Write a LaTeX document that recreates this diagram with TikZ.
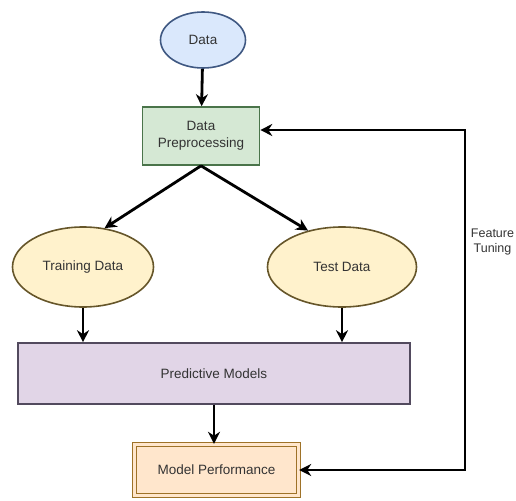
\documentclass[tikz,border=0pt]{standalone}
\usepackage{fontspec}
\setmainfont{Liberation Sans}
\usetikzlibrary{shapes.geometric, arrows.meta, positioning}

\definecolor{bluefill}{HTML}{DAE8FC}
\definecolor{blueline}{HTML}{3F5882}
\definecolor{greenfill}{HTML}{D5E8D4}
\definecolor{greenline}{HTML}{4A744A}
\definecolor{yellowfill}{HTML}{FFF2CC}
\definecolor{yellowline}{HTML}{66562A}
\definecolor{purplefill}{HTML}{E1D5E7}
\definecolor{purpleline}{HTML}{524A5E}
\definecolor{orangefill}{HTML}{FFE6CC}
\definecolor{orangeline}{HTML}{9E7228}
\definecolor{labeltext}{HTML}{333333}

\begin{document}
\begin{tikzpicture}[
    x=1pt, y=1pt,
    every node/.style={font=\fontsize{13.5}{17}\selectfont, text=labeltext},
    source/.style={ellipse, draw=blueline, fill=bluefill, line width=1.6pt, minimum width=85pt, minimum height=56pt},
    stage/.style={rectangle, draw=greenline, fill=greenfill, line width=1.6pt, minimum width=117pt, minimum height=58pt, align=center},
    split/.style={ellipse, draw=yellowline, fill=yellowfill, line width=1.6pt, minimum height=80pt},
    model/.style={rectangle, draw=purpleline, fill=purplefill, line width=1.6pt, minimum width=392pt, minimum height=61pt},
    result/.style={rectangle, draw=orangeline, double=orangefill, double distance=2.6pt, line width=1.4pt, fill=orangefill, minimum width=164pt, minimum height=51pt},
    arrow/.style={-{Stealth[length=12pt, width=12pt]}, line width=2.8pt}
  ]
    \useasboundingbox (0,0) rectangle (516,-500);

    \node[source] (data) at (203,-40) {Data};
    \node[stage] (prep) at (201,-136) {Data\\Preprocessing};
    \node[split, minimum width=141pt] (train) at (83,-267) {Training Data};
    \node[split, minimum width=149pt] (test) at (342,-267) {Test Data};
    \node[model] (pred) at (214,-373.5) {Predictive Models};
    \node[result] (perf) at (216.5,-470) {Model Performance};
    \node[font=\fontsize{12.5}{15}\selectfont, align=center] (tune) at (492.5,-242) {Feature\\Tuning};
    \coordinate (loop) at (465,-300);

    \draw[arrow] (data) -- (prep);
    \draw[arrow] (prep.south) -- (train.61);
    \draw[arrow] (prep.south) -- (test.133);
    \draw[arrow] (train.south) -- (train.south |- pred.north);
    \draw[arrow] (test.south) -- (test.south |- pred.north);
    \draw[arrow] (pred.south) -- (pred.south |- perf.north);
    % feedback loop to preprocessing
    \draw[arrow, {Stealth[length=12pt, width=12pt]}-{Stealth[length=12pt, width=12pt]}]
      (perf.east) -| (loop) |- ([yshift=6pt]prep.east);
  \end{tikzpicture}
\end{document}
